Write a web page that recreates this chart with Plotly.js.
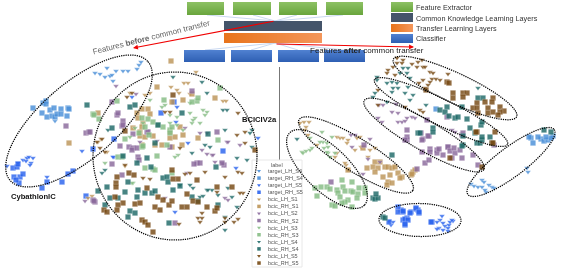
<!DOCTYPE html>
<html><head><meta charset="utf-8">
<script src="https://cdn.plot.ly/plotly-3.0.1.min.js"></script>
<style>html,body{margin:0;padding:0;background:#fff}#chart{filter:blur(.3px)}</style></head>
<body><div id="chart" style="width:562px;height:270px"></div>
<script>
// Embedding points
const target_LH_S4=[[95,73],[100,74],[107,68],[105,77],[110,76],[116,71],[112,75],[113,81],[123,71],[128,71],[137,69],[139,65],[141,62],[55,121],[471,184],[474,186],[478,187],[482,187],[486,192],[482,180],[484,182],[489,185],[492,187],[494,188],[485,190],[527,168],[528,172]];
const target_RH_S4=[[33,108],[43,103],[46,101],[46,104],[42,113],[47,117],[50,110],[52,116],[54,108],[55,117],[57,114],[61,109],[61,114],[68,108],[69,109],[67,116],[531,138],[541,139],[533,143],[538,137],[544,141],[548,140],[553,136],[551,138],[529,137],[546,137],[436,109]];
const target_LH_S5=[[7,166],[23,160],[27,158],[29,157],[33,158],[26,161],[31,163],[30,165],[82,151],[47,177],[18,163],[132,97],[177,107],[176,122],[188,143],[114,157],[175,212],[236,168],[113,157],[258,138],[442,216],[440,220],[437,222],[443,223],[439,228],[437,229],[445,226],[449,225],[448,228],[453,221],[450,222],[448,231],[452,220],[443,230],[389,221],[393,222],[391,225]];
const target_RH_S5=[[13,168],[17,167],[18,164],[14,177],[20,177],[23,174],[19,183],[16,180],[42,188],[47,182],[62,182],[68,174],[73,171],[93,149],[114,139],[86,196],[161,113],[174,102],[223,151],[401,210],[403,212],[405,220],[407,218],[403,220],[405,225],[411,212],[416,209],[418,210],[419,213],[432,222],[398,207],[398,212],[403,211],[410,213],[416,208],[419,212],[389,222],[405,219],[408,220],[405,224],[431,222]];
const bcic_LH_S1=[[223,101],[226,101],[190,94],[184,83],[188,83],[171,87],[177,90],[179,93],[150,93],[145,95],[196,72],[130,93],[92,196],[88,198],[98,142],[101,139],[107,152],[125,166],[300,123],[304,122],[309,122],[306,127],[305,130],[308,135],[317,145],[337,137],[340,138],[343,138],[348,140],[347,143],[357,138],[360,137],[337,153],[335,157],[346,165],[348,170],[370,150],[368,157],[375,148],[345,163],[361,147],[355,150]];
const bcic_RH_S1=[[171,61],[69,143],[157,87],[183,100],[172,102],[215,98],[98,113],[142,109],[148,109],[137,113],[138,118],[143,123],[150,114],[133,128],[142,127],[140,132],[140,136],[145,137],[153,136],[170,138],[175,137],[170,132],[180,127],[183,135],[198,138],[142,145],[162,145],[172,147],[182,145],[155,145],[192,94],[375,162],[380,162],[373,167],[378,168],[385,167],[388,167],[392,168],[395,167],[375,172],[383,177],[388,182],[390,175],[398,173],[402,177],[387,185],[392,183],[367,168],[363,148],[348,170],[413,172],[411,175],[415,170],[412,174],[400,178]];
const bcic_LH_S2=[[379,105],[383,105],[392,112],[398,113],[378,118],[382,122],[398,122],[402,122],[407,118],[412,117],[415,118],[405,121],[452,130],[455,132],[396,104],[370,139],[351,135],[355,135],[352,147],[380,162],[363,174],[368,159],[116,86],[136,94],[200,133],[207,133],[140,142],[157,141],[227,142],[228,142],[240,145],[185,128],[202,150],[207,154],[212,155],[213,155],[215,162],[222,163],[225,198],[228,200],[187,173],[165,198],[85,201]];
const bcic_RH_S2=[[66,126],[86,133],[89,132],[192,91],[117,115],[118,113],[122,126],[147,132],[112,102],[123,121],[123,125],[133,134],[148,132],[120,146],[129,147],[133,148],[132,150],[90,132],[217,132],[138,157],[139,160],[122,175],[112,164],[95,202],[93,200],[175,223],[197,163],[224,165],[222,163],[137,148],[170,147],[194,164],[200,163],[94,201],[407,130],[407,140],[421,133],[423,139],[429,136],[427,120],[448,147],[430,149],[437,150],[447,117],[407,137],[422,140],[428,136],[422,152],[430,152],[437,153],[439,149],[443,155],[448,147],[450,151],[455,153],[454,148],[460,150],[462,158],[473,155],[478,165],[425,163],[429,160],[452,158],[462,135],[463,133],[494,145],[417,169],[364,145],[405,140],[331,182]];
const bcic_LH_S3=[[150,100],[162,107],[190,103],[203,110],[207,112],[205,115],[190,113],[195,118],[200,123],[192,123],[193,120],[177,117],[170,115],[165,105],[170,123],[177,125],[183,130],[135,128],[130,137],[143,123],[105,163],[133,183],[132,183],[178,155],[175,157],[323,142],[327,143],[320,142],[332,137],[322,132],[310,138],[302,152],[303,153],[306,151],[310,150],[312,148],[324,148],[328,147],[328,153],[330,157],[335,153],[327,152]];
const bcic_RH_S3=[[93,114],[117,101],[220,88],[164,100],[197,101],[192,102],[198,98],[142,118],[148,119],[153,122],[145,127],[139,133],[149,135],[158,125],[163,127],[170,130],[170,133],[167,145],[142,147],[218,140],[172,127],[118,157],[122,157],[157,156],[145,168],[153,169],[172,173],[94,115],[99,119],[125,139],[143,146],[155,170],[315,188],[317,196],[321,187],[327,187],[330,189],[342,180],[352,182],[343,187],[337,190],[338,193],[345,191],[351,191],[353,192],[359,188],[365,188],[358,194],[365,193],[340,197],[348,200],[357,198],[332,205],[335,206],[352,207],[345,202],[342,203]];
const bcic_LH_S4=[[173,77],[202,82],[207,93],[223,110],[227,110],[225,130],[252,130],[250,133],[205,145],[210,147],[252,147],[108,130],[192,153],[237,158],[247,160],[105,170],[102,173],[180,185],[190,185],[193,188],[207,190],[212,190],[218,195],[228,188],[232,197],[237,207],[225,230],[225,217],[208,190],[200,197],[203,196],[377,77],[377,80],[375,93],[373,97],[387,102],[400,73],[403,68],[408,68],[407,73],[410,78],[387,83],[392,82],[397,83],[393,88],[392,92],[398,88],[405,93],[413,95],[410,100],[426,105],[408,87],[478,88],[297,139]];
const bcic_RH_S4=[[87,105],[112,128],[98,191],[107,187],[130,107],[135,105],[182,113],[158,125],[208,134],[155,143],[123,156],[137,163],[147,158],[151,167],[163,178],[167,177],[168,182],[110,198],[118,198],[125,192],[128,182],[138,190],[137,197],[145,193],[152,193],[155,191],[173,190],[180,186],[192,197],[130,211],[135,213],[128,217],[169,223],[216,167],[105,205],[198,201],[218,205],[418,133],[433,128],[433,132],[440,110],[447,107],[445,112],[449,116],[455,118],[458,117],[462,107],[467,119],[463,136],[470,128],[478,98],[483,98],[475,133],[481,125],[482,122],[477,143],[480,143],[482,140],[490,137],[492,143],[463,145],[482,137],[392,155],[373,198],[375,199],[378,198],[376,194],[383,217],[385,218],[544,130],[551,132],[462,146],[420,133]];
const bcic_LH_S5=[[397,58],[403,60],[402,63],[412,64],[418,62],[422,60],[417,67],[423,67],[425,67],[430,72],[433,73],[423,80],[432,79],[436,79],[440,80],[430,82],[428,85],[448,74],[419,83],[393,67],[388,70],[387,73],[395,75],[397,63],[425,88],[378,90],[378,105],[405,107],[420,110],[423,112],[132,93],[127,97],[165,112],[170,112],[238,113],[237,135],[245,132],[245,143],[180,148],[102,139],[97,142],[105,152],[100,148],[125,165],[143,178],[150,179],[205,172],[225,177],[238,172],[242,173],[190,173],[185,174],[217,192],[198,218],[202,218],[200,222],[225,218],[225,222],[234,222],[238,219],[243,193],[240,193],[202,213],[179,224]];
const bcic_RH_S5=[[117,177],[116,183],[116,187],[129,173],[134,175],[115,197],[123,203],[118,205],[117,210],[104,210],[107,212],[135,204],[140,203],[147,188],[155,207],[160,210],[158,197],[163,200],[169,205],[172,201],[178,179],[173,179],[172,170],[182,207],[187,207],[197,180],[187,194],[193,201],[198,202],[207,207],[217,187],[232,187],[215,211],[217,208],[142,220],[145,222],[148,225],[153,232],[255,150],[173,95],[125,131],[453,93],[453,98],[463,93],[467,93],[463,97],[447,82],[449,83],[426,90],[477,103],[485,102],[493,98],[492,102],[473,108],[477,108],[478,113],[488,108],[488,113],[493,112],[500,107],[504,111],[500,112],[498,115],[477,132],[495,132],[492,143],[450,158],[482,167],[476,132],[493,143]];

const seriesNames=['target_LH_S4','target_RH_S4','target_LH_S5','target_RH_S5','bcic_LH_S1','bcic_RH_S1','bcic_LH_S2','bcic_RH_S2','bcic_LH_S3','bcic_RH_S3','bcic_LH_S4','bcic_RH_S4','bcic_LH_S5','bcic_RH_S5'];
const seriesData=[target_LH_S4,target_RH_S4,target_LH_S5,target_RH_S5,bcic_LH_S1,bcic_RH_S1,bcic_LH_S2,bcic_RH_S2,bcic_LH_S3,bcic_RH_S3,bcic_LH_S4,bcic_RH_S4,bcic_LH_S5,bcic_RH_S5];
const seriesColors=['#4a8fd8','#4a8fd8','#2a63ee','#2a63ee','#bd9558','#bd9558','#8b6a9c','#8b6a9c','#86bd84','#86bd84','#1f6a68','#1f6a68','#774a14','#774a14'];
const symbols=seriesNames.map(n=>n.includes('_LH_')?'triangle-down':'square');

// Dotted cluster outlines: [cx, cy, semi-major, semi-minor, tilt in degrees]
const clusterOutlines=[[79,121,91,38,-40.7],[175,156,82,84,0],[455,88,68,15,25],[441,112,74,13,26],[424,135,69,15,30],[356,155,67,16.5,32],[327,169,52,22,44],[420,220,41,16.5,1],[511,162,54,14.5,-37]];

// Network diagram blocks: [x0, x1, y0, y1]
const greenBlocks=[[187,224,2,15],[233,271,2,15],[279,317,2,15],[326,363,2,15]];
const blueBlocks=[[184,225,50,62],[231,272,50,62],[278,319,50,62],[324,365,50,62]];
const darkBlock=[224,322,21,31];
const orangeBlock=[224,322,33,43];
const connectorTop=[207,253,297,343];
const connectorBottom=[205,251,298,345];
const hubX=275;

// Key at the top right
const keyLabels=['Feature Extractor','Common Knowledge Learning Layers','Transfer Learning Layers','Classifier'];
const keyBlocks=[[391,413,2,12],[391,413,13,22],[391,413,24,32],[391,413,34,43]];

function hex(a,b,t){const p=s=>[1,3,5].map(i=>parseInt(s.substr(i,2),16));const A=p(a),B=p(b);
  return 'rgb('+A.map((v,i)=>Math.round(v+(B[i]-v)*t)).join(',')+')';}
const shapes=[];
function rect(b,c,extra){shapes.push(Object.assign({type:'rect',xref:'x',yref:'y',x0:b[0],x1:b[1],y0:b[2],y1:b[3],fillcolor:c,line:{width:0},layer:'below'},extra||{}));}
function vGrad(b,top,bot){const n=b[3]-b[2];for(let i=0;i<n;i++)rect([b[0],b[1],b[2]+i,Math.min(b[3],b[2]+i+1.5)],hex(top,bot,i/(n-1)));}
function hGrad(b,l,r){const n=Math.round(b[1]-b[0]),w=(b[1]-b[0])/n;for(let i=0;i<n;i++)rect([b[0]+i*w,Math.min(b[1],b[0]+(i+1.5)*w),b[2],b[3]],hex(l,r,i/(n-1)));}
function seg(x0,y0,x1,y1,c,w){shapes.push({type:'line',xref:'x',yref:'y',x0,y0,x1,y1,line:{color:c,width:w},layer:'below'});}

connectorTop.forEach(x=>seg(x,15,hubX,21,'#c9d8f0',1));
connectorBottom.forEach(x=>seg(hubX,43,x,50,'#c9d8f0',1));
greenBlocks.forEach(b=>vGrad(b,'#8cc063','#6aa63e'));
blueBlocks.forEach(b=>vGrad(b,'#4f80d0','#2f60b4'));
rect(darkBlock,'#44546a');
hGrad(orangeBlock,'#e8741c','#f4965a');
vGrad(keyBlocks[0],'#8cc063','#6aa63e');rect(keyBlocks[1],'#44546a');
hGrad(keyBlocks[2],'#e8741c','#f4965a');vGrad(keyBlocks[3],'#4f80d0','#2f60b4');
seg(279.5,67,279.5,160,'#777777',1);

// Plot key box
const boxX0=252,boxX1=302,boxY0=160,boxY1=267,rowY0=171,rowStep=7.08,keyMarkX=259,keyTextX=267;
rect([boxX0,boxX1,boxY0,boxY1],'#ffffff',{line:{color:'#e8e8e8',width:1},layer:'below'});

// Ellipses
clusterOutlines.forEach(e=>{const [cx,cy,a,b,t]=e,r=t*Math.PI/180;let d='';
  for(let i=0;i<=96;i++){const p=i/96*2*Math.PI,x=a*Math.cos(p),y=b*Math.sin(p);
    d+=(i?'L':'M')+(cx+x*Math.cos(r)-y*Math.sin(r)).toFixed(2)+','+(cy+x*Math.sin(r)+y*Math.cos(r)).toFixed(2);}
  shapes.push({type:'path',xref:'x',yref:'y',path:d+'Z',fillcolor:'rgba(0,0,0,0)',line:{color:'#000',width:1.25,dash:'1.25px,1px'},layer:'above'});});

const traces=seriesNames.map((n,i)=>({type:'scatter',mode:'markers',name:n,
  x:seriesData[i].map(p=>p[0]),y:seriesData[i].map(p=>p[1]),
  marker:{symbol:symbols[i],color:seriesColors[i],size:symbols[i]==='square'?5.5:5,opacity:.82,line:{color:'rgba(255,255,255,.6)',width:.5}},hoverinfo:'name'}));

const annotations=[];
function txt(text,x,y,size,color,extra){annotations.push(Object.assign({text,x,y,xref:'x',yref:'y',showarrow:false,xanchor:'left',yanchor:'middle',borderpad:0,font:{family:'Liberation Sans, Arial, sans-serif',size,color}},extra||{}));}
keyLabels.forEach((l,i)=>txt(l,415,[7,18,28,38][i],7.25,'#333'));
txt('label',277,165,5.5,'#555',{xanchor:'center'});
seriesNames.forEach((n,i)=>txt(n,keyTextX,rowY0+i*rowStep,5.5,'#555'));
txt('Features <b>before</b> common transfer',151,37.5,8,'#666',{xanchor:'center',textangle:-14});
txt('Features <b>after</b> common transfer',309,50,8,'#222');
txt('<b>BCICIV2a</b>',241,119,7.6,'#111');
txt('<b>CybathlonIC</b>',10,196,7.6,'#111');
function arrow(x,y,ax,ay){annotations.push({x,y,ax,ay,xref:'x',yref:'y',axref:'x',ayref:'y',text:'',showarrow:true,arrowhead:2,arrowsize:.9,arrowwidth:1.1,arrowcolor:'#f00000'});}
arrow(133,48,275,21);arrow(414,47,275,44);

// Markers of the plot key, one per series
traces.push({type:'scatter',mode:'markers',x:seriesNames.map(()=>keyMarkX),y:seriesNames.map((_,i)=>rowY0+i*rowStep),
  marker:{symbol:symbols,color:seriesColors,size:3.5,opacity:.9},hoverinfo:'skip',xaxis:'x',yaxis:'y'});

Plotly.newPlot('chart',traces,{width:562,height:270,margin:{l:0,r:0,t:0,b:0},paper_bgcolor:'#fff',plot_bgcolor:'#fff',showlegend:false,
  xaxis:{range:[0,562],visible:false,fixedrange:true},yaxis:{range:[270,0],visible:false,fixedrange:true},shapes,annotations},{staticPlot:true,displayModeBar:false});
</script></body></html>
